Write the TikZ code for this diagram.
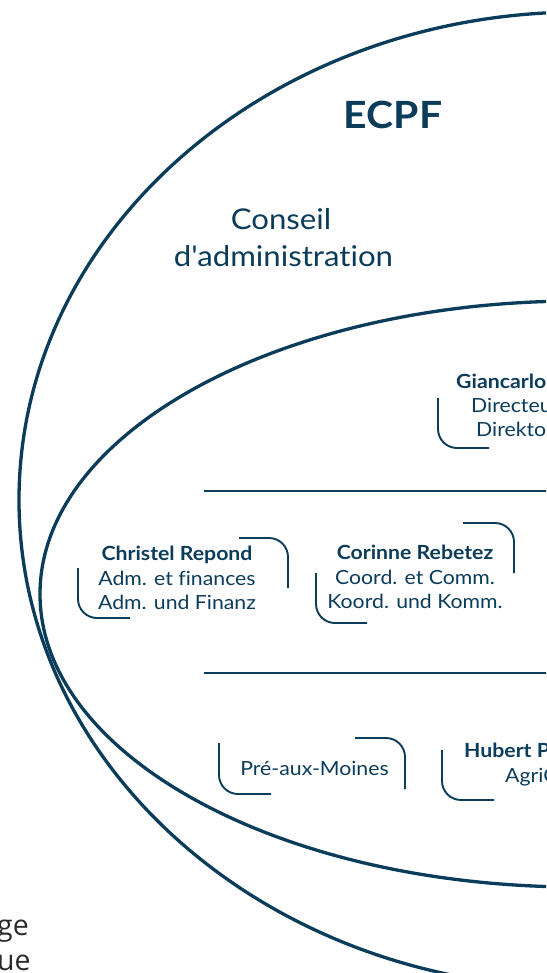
\documentclass[tikz,border=0pt]{standalone}
\usepackage{fontspec}
\setmainfont{Lato}[FakeStretch=1.09,Ligatures={TeX,NoCommon}]
\newfontfamily\notefont{Open Sans}
\definecolor{navy}{HTML}{0B3C5A}
\definecolor{notegray}{HTML}{2A2A2A}
\begin{document}
\begin{tikzpicture}[x=1pt,y=-1pt,
  ring/.style={draw=navy,line width=3.3pt},
  rule/.style={draw=navy,line width=2.3pt},
  bracket/.style={draw=navy,line width=1.9pt,rounded corners=19pt},
  title/.style={text=navy,font=\fontsize{37.5}{44}\selectfont\bfseries,anchor=base,inner sep=0pt},
  board/.style={text=navy,font=\fontsize{28.6}{34}\selectfont,anchor=base,inner sep=0pt},
  who/.style={text=navy,font=\fontsize{19.5}{24}\selectfont\bfseries,inner sep=0pt},
  role/.style={text=navy,font=\fontsize{19.5}{24}\selectfont,inner sep=0pt},
  note/.style={text=notegray,font=\fontsize{28.5}{34}\notefont,anchor=base west,inner sep=0pt}]
\useasboundingbox (0,0) rectangle (546,973);
\clip (0,0) rectangle (546,973);

% outer ring (foundation) and inner ring (staff)
\draw[ring] (581,500) ellipse [x radius=562, y radius=488];
\draw[ring] (578,594) ellipse [x radius=538, y radius=293];

% rules separating the staff levels
\coordinate (r1a) at (204,491); \coordinate (r1b) at (560,491);
\coordinate (r2a) at (204,673); \coordinate (r2b) at (560,673);
\draw[rule] (r1a) -- (r1b);
\draw[rule] (r2a) -- (r2b);

% headings
\node[title] (ecpf) at (393,129) {ECPF};
\node[board] (ca1) at (281,230) {Conseil};
\node[board] (ca2) at (283.5,266) {d\textquotesingle administration};

% direction
\node[who,anchor=base west] (gc1) at (456,388) {Giancarlo};
\node[role,anchor=base west] (gc2) at (471,412) {Directeur};
\node[role,anchor=base west] (gc3) at (476,436) {Direktor};
\draw[bracket] (438,398) -- (438,448) -- (489,448);

% administration and finances
\node[who,anchor=base] (cr1) at (177,560) {Christel Repond};
\node[role,anchor=base] (cr2) at (177,585) {Adm. et finances};
\node[role,anchor=base] (cr3) at (177,609) {Adm. und Finanz};
\draw[bracket] (78,568) -- (78,618) -- (130,618);
\draw[bracket] (239,538) -- (288,538) -- (288,588);

% coordination and communication
\node[who,anchor=base] (rb1) at (415,559) {Corinne Rebetez};
\node[role,anchor=base] (rb2) at (415,584) {Coord. et Comm.};
\node[role,anchor=base] (rb3) at (415,608) {Koord. und Komm.};
\draw[bracket] (316,573) -- (316,623) -- (367,623);
\draw[bracket] (463,523) -- (514,523) -- (514,573);

% sites
\node[role,anchor=base] (pm) at (314.5,775) {Pré-aux-Moines};
\draw[bracket] (219,743) -- (219,794) -- (271,794);
\draw[bracket] (355,738) -- (405,738) -- (405,789);

\node[who,anchor=base west] (hp1) at (464,757) {Hubert P};
\node[role,anchor=base west] (hp2) at (505,782) {AgriC};
\draw[bracket] (442,750) -- (442,800) -- (494,800);

% side notes
\node[note] (n1) at (-3,935) {ge};
\node[note] (n2) at (-3,970) {ue};
\end{tikzpicture}
\end{document}
